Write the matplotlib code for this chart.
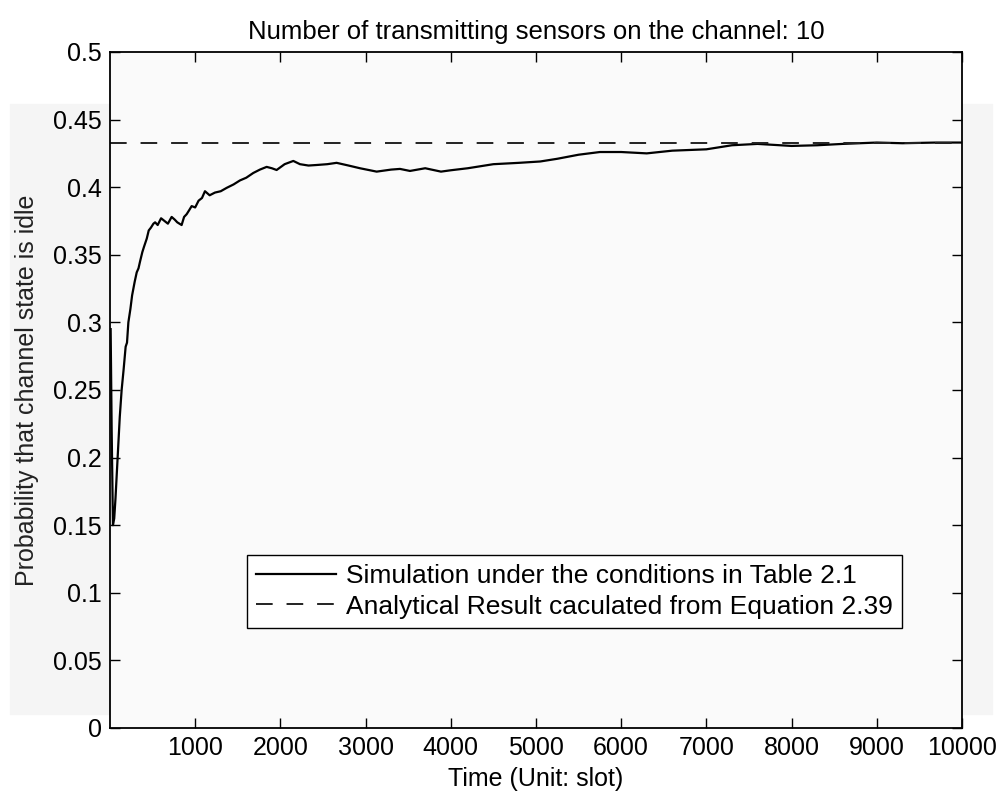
import matplotlib
matplotlib.use("Agg")
import matplotlib.pyplot as plt
from matplotlib.patches import Rectangle

plt.rcParams['font.family'] = ['Liberation Sans', 'DejaVu Sans']
plt.rcParams['lines.scale_dashes'] = False

# simulated idle probability (time slot, probability)
sim_t = [8, 20, 35, 50, 65, 90, 115, 137, 160, 184, 200, 216, 240, 260, 290,
         314, 335, 353, 380, 400, 432, 455, 480, 510, 530, 560, 600, 640,
         680, 724, 760, 790, 841, 870, 900, 930, 959, 1000, 1040, 1080, 1115,
         1170, 1232, 1300, 1370, 1450, 1526, 1600, 1682, 1760, 1839, 1900,
         1956, 2050, 2152, 2230, 2330, 2426, 2550, 2660, 2800, 2934, 3130,
         3300, 3404, 3521, 3700, 3885, 4000, 4200, 4500, 4800, 5050, 5250,
         5500, 5750, 6000, 6300, 6600, 7000, 7300, 7600, 8000, 8300, 8600,
         9000, 9300, 9700, 10000]
sim_p = [0.295, 0.22, 0.15, 0.155, 0.17, 0.20, 0.23, 0.25, 0.265, 0.282, 0.285,
         0.30, 0.31, 0.32, 0.33, 0.337, 0.34, 0.345, 0.352, 0.356, 0.362,
         0.368, 0.37, 0.373, 0.374, 0.372, 0.377, 0.375, 0.373, 0.378, 0.376,
         0.374, 0.372, 0.378, 0.38, 0.383, 0.386, 0.385, 0.39, 0.392, 0.397,
         0.394, 0.396, 0.397, 0.3995, 0.402, 0.405, 0.407, 0.4105, 0.413,
         0.415, 0.414, 0.4127, 0.417, 0.4194, 0.417, 0.416, 0.4164, 0.417,
         0.418, 0.416, 0.414, 0.4115, 0.413, 0.4135, 0.412, 0.414, 0.4115,
         0.4125, 0.414, 0.417, 0.418, 0.419, 0.421, 0.424, 0.426, 0.426,
         0.425, 0.427, 0.428, 0.431, 0.432, 0.4305, 0.431, 0.432, 0.433,
         0.4325, 0.433, 0.433]

analytical = 0.433
x_ticks = [1000, 2000, 3000, 4000, 5000, 6000, 7000, 8000, 9000, 10000]
y_ticks = [0, 0.05, 0.1, 0.15, 0.2, 0.25, 0.3, 0.35, 0.4, 0.45, 0.5]
y_labels = ['0', '0.05', '0.1', '0.15', '0.2', '0.25', '0.3', '0.35', '0.4', '0.45', '0.5']

fig = plt.figure(figsize=(10.07, 8.02), dpi=100)
# faint scanned-page tint
fig.patches.append(Rectangle((0.01, 0.11), 0.975, 0.76, transform=fig.transFigure,
                             color='#f5f5f5', zorder=-10))
ax = fig.add_axes([0.1092, 0.0923, 0.8461, 0.8429])
ax.set_facecolor('#fafafa')

ax.plot(sim_t, sim_p, color='black', lw=1.6,
        label='Simulation under the conditions in Table 2.1')
ax.axhline(analytical, color='#222222', lw=1.4, dashes=(12, 10),
           label='Analytical Result caculated from Equation 2.39')

ax.set_xlim(0, 10000)
ax.set_ylim(0, 0.5)
ax.set_xticks(x_ticks)
ax.set_yticks(y_ticks)
ax.set_yticklabels(y_labels)
ax.tick_params(direction='in', length=7, width=1, labelsize=18,
               top=True, right=True, pad=6)
for s in ax.spines.values():
    s.set_linewidth(1.3)

ax.set_xlabel('Time (Unit: slot)', fontsize=18, labelpad=5)
ax.set_ylabel('Probability that channel state is idle', fontsize=18, color='#222222',
              labelpad=10)
ax.set_title('Number of transmitting sensors on the channel: 10', fontsize=18.5, pad=9)

leg = ax.legend(loc='lower left', bbox_to_anchor=(0.161, 0.148), fontsize=19,
                frameon=True, fancybox=False, edgecolor='black', framealpha=1,
                handlelength=3.0, handletextpad=0.4, borderpad=0.35, labelspacing=0.25,
                borderaxespad=0)
leg.get_frame().set_linewidth(1.0)

fig.savefig('out.png', dpi=100)
